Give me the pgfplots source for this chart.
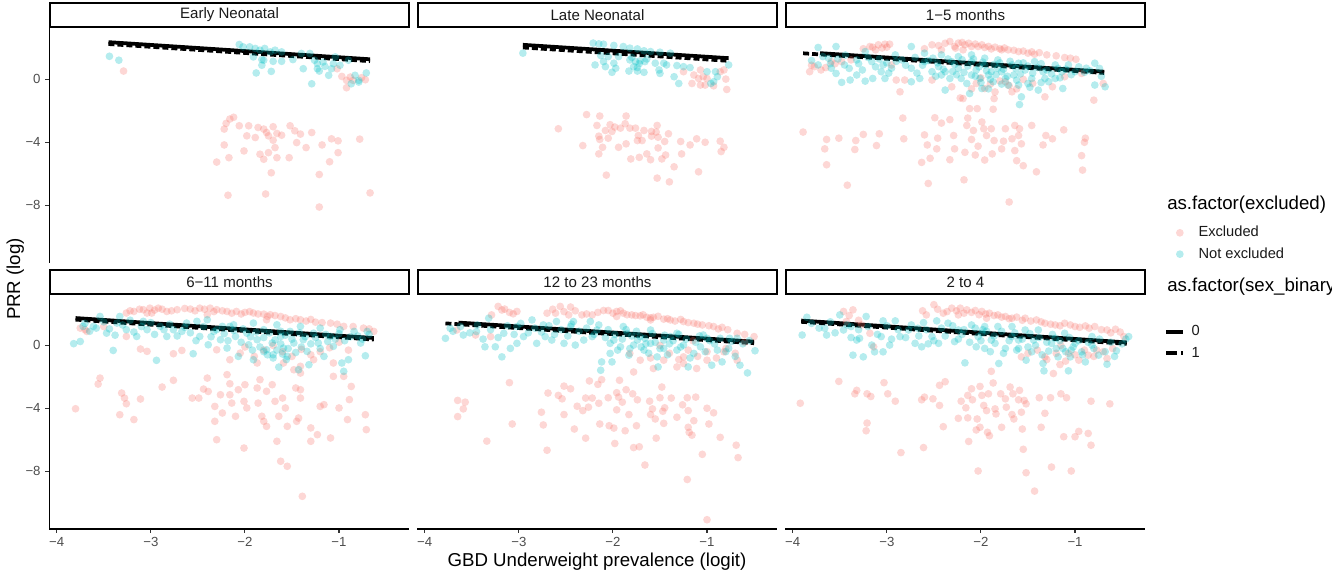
\documentclass[border=0pt]{standalone}
\usepackage{fontspec}
\setmainfont{Liberation Sans}
\usepackage{pgfplots}
\pgfplotsset{compat=1.18}
\definecolor{salm}{HTML}{F8766D}
\definecolor{cyn}{HTML}{00BFC4}
\definecolor{tickgray}{HTML}{4D4D4D}
\definecolor{stripgray}{HTML}{1A1A1A}
\pgfplotsset{
 panel/.style={scale only axis, width=270pt, height=176.25pt,
  xmin=-4.079, xmax=-0.253, ymin=-11.68, ymax=3.27,
  xtick={-4,-3,-2,-1}, xticklabels={−4,−3,−2,−1},
  ytick={-8,-4,0}, yticklabels={−8,−4,0},
  tick align=outside, major tick length=3pt,
  tick style={black!80, line width=0.8pt},
  axis line style={black, line width=1pt, -},
  ticklabel style={font=\fontsize{9.9}{11}\selectfont, text=tickgray},
  clip=false},
 exc/.style={only marks, color=salm, mark=*, mark size=2.9pt, mark options={salm, draw opacity=0, fill opacity=0.29}, forget plot},
 nex/.style={only marks, color=cyn, mark=*, mark size=2.9pt, mark options={cyn, draw opacity=0, fill opacity=0.29}, forget plot},
 reg0/.style={black, line width=2.8pt, forget plot},
 reg1/.style={black, line width=2.8pt, dash pattern=on 4.5pt off 2.25pt, forget plot},
}
\begin{document}
\begin{tikzpicture}[x=0.75pt,y=0.75pt]
\useasboundingbox (0,0) rectangle (1332,571);

% ---------- Panel 1: Early Neonatal ----------
\begin{axis}[panel, at={(36.975pt,231pt)}, anchor=south west, axis y line*=left, hide x axis]
\addplot[exc] coordinates {(-3.29,0.53) (-1.02,0.68) (-0.97,0.19) (-0.92,-0.06) (-0.92,-0.53) (-0.88,0.15) (-0.76,0.11) (-0.72,-0.02) (-0.85,-0.06)
(-2.20,-2.80) (-2.22,-3.16) (-2.16,-2.52) (-2.12,-2.41) (-2.06,-2.95) (-1.96,-2.95) (-1.98,-3.59) (-1.86,-3.06) (-1.80,-3.16) (-1.77,-3.38) (-1.75,-3.59) (-1.70,-3.01) (-1.66,-3.44) (-1.70,-3.87) (-1.61,-3.55) (-1.52,-2.95) (-1.47,-3.27) (-1.41,-3.48) (-1.45,-4.02) (-1.29,-3.38) (-1.35,-4.34) (-1.18,-4.17) (-1.08,-3.78) (-1.01,-3.91) (-0.78,-3.80) (-2.22,-4.17) (-2.01,-4.55) (-2.17,-4.98) (-2.30,-5.26) (-1.84,-4.76) (-1.75,-4.66) (-1.68,-4.34) (-1.66,-4.98) (-1.72,-5.94) (-1.53,-4.98) (-1.80,-5.08) (-1.01,-4.66) (-1.10,-5.24) (-1.21,-6.05) (-2.18,-7.37) (-1.78,-7.29) (-1.21,-8.12) (-0.67,-7.22) (-1.89,-3.70)};
\addplot[nex] coordinates {(-3.44,1.47) (-3.34,1.22) (-2.06,2.22) (-2.02,2.07) (-1.95,2.07) (-1.89,1.97) (-1.84,1.86) (-1.79,1.97) (-1.73,1.75) (-1.68,1.86) (-1.61,1.75) (-1.91,1.43) (-1.82,1.26) (-1.80,1.22) (-1.70,1.15) (-1.61,1.15) (-1.82,0.90) (-1.72,0.51) (-1.88,0.41) (-1.49,1.26) (-1.40,1.65) (-1.31,1.65) (-1.38,0.68) (-1.26,1.22) (-1.23,1.00) (-1.17,1.11) (-1.23,0.68) (-1.21,0.53) (-1.15,0.83) (-1.08,0.68) (-1.06,1.00) (-0.99,0.90) (-1.11,0.26) (-1.29,-0.28) (-0.87,-0.28) (-0.79,-0.17) (-0.71,0.41) (-0.83,0.26) (-0.90,1.22) (-1.04,1.43) (-0.79,-0.06)};
\addplot[reg1] coordinates {(-3.45,2.25) (-0.67,1.16)};
\addplot[reg0] coordinates {(-3.45,2.37) (-0.67,1.28)};
\end{axis}

% ---------- Panel 2: Late Neonatal ----------
\begin{axis}[panel, at={(312.975pt,231pt)}, anchor=south west, hide x axis, hide y axis]
\addplot[exc] coordinates {(-1.25,0.49) (-1.14,0.28) (-1.07,0.60) (-1.04,0.17) (-1.09,0.06) (-1.16,-0.26) (-1.07,-0.36) (-1.00,0.06) (-0.93,-0.41) (-0.86,0.49) (-0.82,0.60) (-0.80,0.02) (-0.79,-0.64) (-1.02,-0.36)
(-2.58,-3.14) (-2.28,-2.24) (-2.14,-2.33) (-2.17,-2.93) (-2.03,-2.88) (-1.98,-3.03) (-1.92,-3.10) (-1.86,-2.33) (-1.87,-2.82) (-1.82,-3.10) (-1.76,-3.10) (-2.08,-3.25) (-2.01,-3.31) (-1.67,-3.25) (-1.59,-3.31) (-1.53,-2.93) (-1.54,-3.35) (-1.59,-3.61) (-1.52,-3.68) (-1.41,-3.46) (-2.15,-3.61) (-2.14,-3.82) (-2.05,-3.74) (-1.73,-3.57) (-1.74,-3.89) (-1.69,-3.89) (-1.45,-3.95) (-1.28,-3.95) (-1.11,-3.78) (-1.02,-4.00) (-1.18,-4.17) (-0.86,-3.93) (-0.82,-4.32) (-0.85,-4.59) (-2.32,-4.21) (-2.11,-4.32) (-1.94,-4.32) (-1.86,-4.10) (-1.52,-4.36) (-2.15,-4.74) (-1.81,-5.06) (-1.72,-4.96) (-1.64,-4.74) (-1.60,-5.11) (-1.48,-5.06) (-1.44,-4.81) (-1.27,-4.74) (-1.35,-5.56) (-2.07,-6.09) (-1.53,-6.28) (-1.40,-6.52) (-1.09,-5.88)};
\addplot[nex] coordinates {(-2.957,1.67) (-2.21,2.31) (-2.15,2.26) (-2.10,2.24) (-1.99,2.16) (-1.89,2.09) (-1.82,1.99) (-1.74,1.94) (-1.67,1.82) (-1.60,1.77) (-1.50,1.73) (-1.39,1.67) (-2.13,1.52) (-2.05,1.45) (-1.94,1.45) (-2.10,1.13) (-1.99,1.03) (-2.19,0.92) (-2.08,0.81) (-1.97,0.71) (-2.01,0.45) (-1.82,1.24) (-1.76,1.13) (-1.71,1.18) (-1.66,1.13) (-1.78,0.81) (-1.74,0.75) (-1.83,0.53) (-1.74,0.53) (-1.67,0.45) (-1.55,1.03) (-1.46,1.03) (-1.43,0.92) (-1.51,0.60) (-1.50,0.38) (-1.32,0.88) (-1.25,0.81) (-1.18,0.75) (-1.35,0.17) (-1.30,-0.26) (-1.00,0.49) (-0.91,0.49) (-0.89,0.17) (-0.77,0.92) (-0.96,-0.26) (-0.93,-0.15) (-1.80,1.40) (-1.72,1.00) (-1.64,1.30)};
\addplot[reg1] coordinates {(-2.957,2.03) (-0.77,1.18)};
\addplot[reg0] coordinates {(-2.957,2.20) (-0.77,1.35)};
\end{axis}

% ---------- Panel 3: 1-5 months ----------
\begin{axis}[panel, at={(588.975pt,231pt)}, anchor=south west, hide x axis, hide y axis,
  legend style={at={(axis description cs:1.073,0.083)}, anchor=west, draw=none, fill=none,
    font=\fontsize{11}{13}\selectfont, text=stripgray, row sep=2pt,
    nodes={text height=8pt, text depth=2pt}},
  legend cell align=left,
  legend image code/.code={\draw[#1] plot coordinates {(0pt,0pt)}; \path[draw=none, fill=none] (-3pt,0pt) -- (12pt,0pt);}]
\addlegendimage{only marks, color=salm, mark=*, mark size=2.9pt, mark options={salm, draw opacity=0, fill opacity=0.29}}
\addlegendentry{Excluded}
\addlegendimage{only marks, color=cyn, mark=*, mark size=2.9pt, mark options={cyn, draw opacity=0, fill opacity=0.29}}
\addlegendentry{Not excluded}
\addplot[exc] coordinates {(-3.82,0.49) (-3.77,0.81) (-3.70,0.60) (-3.59,1.13) (-3.48,1.13) (-3.38,1.24) (-3.18,2.09) (-3.09,2.20) (-3.02,2.24) (-2.97,2.24) (-3.12,1.88) (-2.95,0.92) (-2.90,-0.04) (-2.86,-0.79) (-2.81,-0.04) (-2.52,2.20) (-2.42,1.88) (-2.33,2.41) (-2.24,2.31) (-2.17,2.20) (-2.10,2.09) (-2.03,2.09) (-1.96,2.03) (-1.89,1.94) (-1.78,1.88) (-1.71,1.88) (-1.60,1.77) (-1.50,1.67) (-1.43,1.60) (-1.30,1.56) (-1.11,1.39) (-0.99,1.28) (-2.19,1.88) (-2.27,1.99) (-2.52,-0.04) (-2.31,-0.47) (-2.19,-1.22) (-2.05,-0.26) (-1.96,-0.58) (-1.86,-1.22) (-1.74,-0.15) (-1.67,-0.79) (-1.32,-1.11) (-1.24,-0.47) (-1.11,0.17) (-0.93,0.38) (-0.80,-1.32) (-0.70,-0.26)
(-3.89,-3.35) (-3.64,-3.82) (-3.66,-4.42) (-3.64,-5.43) (-3.51,-3.74) (-3.42,-6.73) (-3.34,-4.46) (-3.33,-3.89) (-3.25,-3.50) (-3.11,-4.21) (-3.08,-3.46) (-2.83,-2.46) (-2.82,-3.78) (-2.63,-5.28) (-2.60,-3.53) (-2.57,-4.17) (-2.56,-6.62) (-2.54,-5.02) (-2.49,-2.44) (-2.47,-4.42) (-2.46,-3.74) (-2.42,-2.78) (-2.33,-2.56) (-2.33,-5.11) (-2.29,-3.57) (-2.28,-4.42) (-2.22,-1.18) (-2.18,-6.39) (-2.17,-4.64) (-2.15,-2.93) (-2.14,-2.46) (-2.12,-1.86) (-2.10,-3.82) (-2.08,-3.25) (-2.06,-4.81) (-2.04,-1.86) (-2.03,-4.25) (-1.99,-2.71) (-1.97,-3.14) (-1.96,-5.13) (-1.94,-3.57) (-1.89,-3.14) (-1.88,-4.74) (-1.87,-1.90) (-1.86,-3.89) (-1.78,-4.42) (-1.76,-3.93) (-1.74,-3.14) (-1.70,-7.80) (-1.67,-3.78) (-1.64,-2.93) (-1.64,-4.53) (-1.62,-5.17) (-1.60,-3.57) (-1.59,-3.14) (-1.57,-4.10) (-1.55,-5.49) (-1.46,-2.93) (-1.41,-5.88) (-1.34,-4.17) (-1.31,-3.57) (-1.24,-3.78) (-1.12,-3.21) (-0.93,-4.85) (-0.92,-5.77) (-0.90,-4.00) (-0.89,-3.74)};
\addplot[exc] coordinates {(-3.80,0.90) (-3.65,0.75) (-3.55,1.00) (-3.25,1.95) (-3.15,2.05) (-3.05,2.00) (-3.00,2.05) (-2.60,1.95) (-2.45,2.15) (-2.38,2.30) (-2.28,2.10) (-2.20,2.35) (-2.13,2.30) (-2.06,2.25) (-1.99,2.20) (-1.92,2.10) (-1.85,2.05) (-1.80,1.95) (-1.75,2.00) (-1.65,1.85) (-1.55,1.80) (-1.46,1.75) (-1.38,1.70) (-1.20,1.50) (-1.05,1.35) (-2.00,0.10) (-1.90,-0.30) (-1.80,-0.10) (-1.70,-0.40) (-1.62,-0.60) (-1.55,0.00) (-1.85,-0.80) (-2.10,-0.60) (-1.45,-0.25)};
\addplot[nex] coordinates {(-3.73,2.03) (-3.54,2.09) (-3.62,1.35) (-3.54,0.38) (-3.48,-0.19) (-3.39,-0.04) (-3.32,0.28) (-3.23,-0.11) (-3.23,1.77) (-3.15,0.06) (-3.06,0.49) (-3.02,0.06) (-2.95,0.71) (-2.91,1.56) (-3.32,1.24) (-3.45,0.92) (-2.74,2.09) (-2.74,0.71) (-2.74,-0.15) (-2.65,0.06) (-2.60,1.13) (-2.52,0.49) (-2.51,1.35) (-2.45,0.81) (-2.42,0.28) (-2.38,-0.68) (-2.33,0.06) (-2.31,1.13) (-2.24,0.71) (-2.21,0.06) (-2.15,-0.26) (-2.12,-0.90) (-2.10,1.13) (-2.05,0.60) (-2.01,0.06) (-1.99,-0.58) (-1.96,0.92) (-1.92,0.28) (-1.87,-0.15) (-1.82,1.24) (-1.78,0.49) (-1.74,0.06) (-1.67,0.92) (-1.65,0.28) (-1.60,-0.36) (-1.57,-1.11) (-1.59,-1.60) (-1.53,0.60) (-1.46,0.06) (-1.43,1.13) (-1.39,-0.68) (-1.34,0.49) (-1.28,-0.15) (-1.21,0.92) (-1.14,0.49) (-1.13,-0.58) (-1.07,0.92) (-1.00,0.49) (-0.88,0.71) (-0.79,1.03) (-0.79,-0.36) (-0.68,-0.47) (-2.60,1.67) (-2.42,1.56) (-2.24,1.45) (-2.10,1.56) (-1.96,1.35) (-1.82,0.71) (-1.60,1.03) (-3.73,0.92) (-3.59,0.71) (-3.16,1.13) (-3.04,0.92) (-2.84,1.24) (-2.38,0.49) (-2.10,0.28) (-1.89,0.49) (-1.71,-0.36) (-1.50,-0.26) (-1.32,0.06) (-1.21,0.06)};
\addplot[nex] coordinates {(-3.80,1.20) (-3.68,1.45) (-3.60,1.00) (-3.52,1.30) (-3.44,1.55) (-3.40,0.70) (-3.30,1.00) (-3.26,0.60) (-3.20,1.40) (-3.12,0.80) (-3.08,1.30) (-3.00,1.05) (-2.98,0.40) (-2.90,1.15) (-2.80,0.90) (-2.70,1.40) (-2.68,0.40) (-2.62,0.90) (-2.56,1.20) (-2.48,0.20) (-2.46,1.05) (-2.40,0.65) (-2.35,1.30) (-2.28,0.95) (-2.26,0.30) (-2.20,1.25) (-2.18,0.45) (-2.14,0.85) (-2.08,1.30) (-2.06,0.20) (-2.02,0.80) (-1.98,1.10) (-1.94,0.55) (-1.90,0.00) (-1.86,0.95) (-1.84,0.30) (-1.80,1.05) (-1.76,0.65) (-1.72,0.20) (-1.69,1.15) (-1.63,0.70) (-1.58,0.35) (-1.55,1.05) (-1.50,0.85) (-1.45,0.40) (-1.40,0.75) (-1.36,1.00) (-1.30,0.60) (-1.25,0.35) (-1.18,0.70) (-1.10,0.65) (-1.04,0.30) (-0.96,0.80) (-0.90,0.45) (-0.84,0.55) (-0.74,0.70) (-0.72,0.20) (-1.62,-0.05) (-1.78,-0.30) (-2.00,-0.20) (-1.92,-0.60) (-1.48,-0.50) (-1.36,-0.20) (-1.16,0.10) (-2.30,0.50)};
\addplot[reg1] coordinates {(-3.89,1.66) (-0.69,0.41)};
\addplot[reg0] coordinates {(-3.71,1.67) (-0.69,0.49)};
\end{axis}

% ---------- Panel 4: 6-11 months ----------
\begin{axis}[panel, at={(36.975pt,31.5pt)}, anchor=south west, axis x line*=bottom, axis y line*=left]
\addplot[exc] coordinates {(-3.75,1.10) (-3.68,0.89) (-3.26,2.06) (-3.18,2.16) (-3.08,2.27) (-3.01,2.37) (-2.92,2.37) (-2.99,2.06) (-2.83,2.16) (-2.72,2.27) (-2.58,2.31) (-2.48,2.37) (-2.37,2.37) (-2.30,2.27) (-2.19,2.16) (-2.09,2.16) (-2.00,2.10) (-1.91,2.06) (-1.80,1.99) (-1.73,1.95) (-1.62,1.84) (-1.52,1.63) (-1.41,1.63) (-1.25,1.48) (-1.09,1.42) (-0.95,1.21) (-0.74,1.10) (-0.63,0.89) (-2.40,1.95) (-3.04,2.06) (-1.77,1.63)
(-3.26,0.57) (-3.11,-0.23) (-3.04,-0.38) (-2.76,-0.53) (-2.67,-0.32) (-2.30,-0.28) (-2.16,-0.91) (-2.05,-0.49) (-1.87,-1.12) (-1.59,-1.12) (-1.48,-1.55) (-1.41,-1.76) (-1.27,-0.91) (-1.06,-1.12) (-0.95,-1.97) (-1.41,-1.33)
(-3.80,-4.03) (-3.56,-2.46) (-3.54,-2.08) (-3.31,-3.03) (-3.28,-3.35) (-3.26,-3.71) (-3.11,-3.41) (-3.33,-4.41) (-3.18,-4.72) (-2.88,-2.65) (-2.76,-2.22) (-2.56,-3.35) (-2.49,-3.35) (-2.44,-2.78) (-2.40,-2.08) (-2.39,-2.93) (-2.30,-6.00) (-2.32,-3.88) (-2.32,-4.83) (-2.26,-3.14) (-2.24,-4.30) (-2.19,-1.86) (-2.16,-2.44) (-2.16,-3.14) (-2.14,-3.67) (-2.10,-4.51) (-2.07,-2.82) (-2.01,-3.56) (-2.01,-6.53) (-2.00,-2.50) (-1.98,-3.98) (-1.87,-2.71) (-1.86,-3.67) (-1.84,-2.18) (-1.82,-4.51) (-1.80,-4.83) (-1.77,-5.15) (-1.77,-2.92) (-1.71,-2.50) (-1.68,-3.56) (-1.66,-6.10) (-1.64,-4.51) (-1.62,-7.37) (-1.60,-3.35) (-1.57,-3.98) (-1.55,-5.15) (-1.55,-7.69) (-1.46,-2.71) (-1.45,-4.83) (-1.43,-4.62) (-1.41,-2.82) (-1.41,-3.35) (-1.39,-9.60) (-1.30,-5.25) (-1.30,-6.10) (-1.23,-5.68) (-1.20,-3.88) (-1.16,-3.77) (-1.09,-5.89) (-1.00,-3.98) (-0.91,-4.72) (-0.89,-3.45) (-0.87,-2.61) (-0.72,-4.41) (-0.71,-5.36) (-1.06,-1.97)};
\addplot[exc] coordinates {(-3.22,2.20) (-3.12,2.30) (-2.96,2.25) (-2.88,2.30) (-2.78,2.20) (-2.64,2.35) (-2.53,2.20) (-2.43,2.30) (-2.33,2.15) (-2.24,2.20) (-2.14,2.05) (-2.04,2.00) (-1.95,2.15) (-1.86,2.00) (-1.76,1.85) (-1.68,1.90) (-1.57,1.75) (-1.46,1.70) (-1.35,1.55) (-1.30,1.65) (-1.18,1.45) (-1.02,1.35) (-0.85,1.20) (-0.68,1.05) (-1.80,-0.30) (-1.70,0.00) (-1.60,-0.40) (-1.50,-0.70) (-1.40,-0.25) (-1.30,-0.60) (-1.20,-0.40) (-1.10,-0.15) (-1.00,0.20) (-0.90,-0.30) (-1.90,-0.70) (-2.00,-0.10) (-3.70,1.00) (-3.50,1.20)};
\addplot[nex] coordinates {(-3.82,0.11) (-3.75,0.25) (-3.72,1.21) (-3.61,1.21) (-3.54,1.84) (-3.47,0.78) (-3.40,-0.32) (-3.33,1.84) (-3.26,1.00) (-3.15,0.57) (-3.04,1.00) (-2.94,-0.95) (-2.90,1.21) (-2.83,0.57) (-2.76,1.00) (-2.67,0.89) (-2.55,-0.53) (-2.51,1.53) (-2.48,0.57) (-2.39,0.04) (-2.33,0.89) (-2.26,0.36) (-2.19,-0.17) (-2.16,1.21) (-2.10,0.57) (-2.07,-0.70) (-1.98,0.78) (-1.96,0.04) (-1.91,-0.91) (-1.87,0.36) (-1.80,1.00) (-1.77,-0.28) (-1.71,0.15) (-1.70,-0.59) (-1.64,-1.38) (-1.62,0.57) (-1.59,-0.17) (-1.55,-0.70) (-1.52,0.89) (-1.48,0.15) (-1.43,-1.55) (-1.38,0.36) (-1.34,-0.38) (-1.32,-1.23) (-1.27,0.78) (-1.22,0.15) (-1.16,-0.70) (-1.09,0.57) (-1.06,-0.06) (-0.97,-1.12) (-0.95,-1.65) (-0.90,-0.91) (-0.84,0.89) (-0.77,0.15) (-0.72,-0.66) (-0.70,0.89) (-3.36,1.42) (-3.08,1.53) (-2.62,1.42) (-2.40,1.63) (-2.12,1.31) (-1.91,1.42) (-1.66,1.31) (-1.41,1.21) (-1.20,1.10) (-0.99,1.00) (-2.24,1.21)};
\addplot[nex] coordinates {(-3.70,1.40) (-3.65,0.90) (-3.58,1.10) (-3.50,1.50) (-3.44,1.05) (-3.38,0.65) (-3.30,1.30) (-3.22,1.60) (-3.18,0.85) (-3.10,1.20) (-3.00,1.45) (-2.96,0.70) (-2.86,1.00) (-2.80,1.35) (-2.72,0.60) (-2.64,1.15) (-2.58,0.80) (-2.52,0.30) (-2.44,1.20) (-2.36,0.55) (-2.30,1.00) (-2.22,0.75) (-2.18,0.30) (-2.12,0.95) (-2.04,0.20) (-2.02,1.05) (-1.94,0.55) (-1.92,-0.30) (-1.88,0.85) (-1.84,-0.10) (-1.80,0.50) (-1.76,-0.60) (-1.74,0.80) (-1.68,0.35) (-1.66,-0.30) (-1.62,0.10) (-1.60,-0.55) (-1.57,0.65) (-1.54,-0.20) (-1.50,0.40) (-1.46,-0.45) (-1.42,0.80) (-1.40,-0.10) (-1.36,0.55) (-1.30,0.10) (-1.25,0.50) (-1.20,-0.20) (-1.14,0.70) (-1.12,0.25) (-1.04,0.40) (-1.00,0.75) (-0.94,0.30) (-0.88,0.55) (-0.80,0.60) (-0.75,0.40) (-0.68,0.70) (-1.70,-0.80) (-1.56,-0.90) (-1.80,-0.40) (-1.62,0.90)};
\addplot[reg1] coordinates {(-3.80,1.64) (-0.63,0.37)};
\addplot[reg0] coordinates {(-3.80,1.74) (-0.63,0.47)};
\end{axis}

% ---------- Panel 5: 12 to 23 months ----------
\begin{axis}[panel, at={(312.975pt,31.5pt)}, anchor=south west, axis x line*=bottom, hide y axis]
\addplot[exc] coordinates {(-3.66,0.98) (-3.46,0.66) (-3.29,1.94) (-3.22,2.48) (-3.15,2.31) (-3.06,2.01) (-3.02,2.16) (-2.70,2.05) (-2.61,2.05) (-2.56,2.48) (-2.45,2.44) (-2.47,1.94) (-2.33,1.94) (-2.22,1.94) (-2.10,2.22) (-2.05,2.22) (-1.96,2.16) (-1.89,2.05) (-1.80,1.94) (-1.71,1.88) (-1.64,1.79) (-1.57,1.79) (-1.46,1.67) (-1.39,1.62) (-1.25,1.52) (-1.14,1.41) (-1.05,1.30) (-0.93,1.20) (-0.84,1.15) (-0.68,0.77) (-0.50,0.56) (-1.96,1.84) (-1.60,1.62) (-3.30,0.56)
(-1.82,-0.51) (-1.71,-0.94) (-1.78,-1.69) (-1.57,-1.47) (-1.46,-0.94) (-1.32,-1.37) (-1.25,-0.73) (-1.25,-1.15) (-1.11,-1.47) (-1.00,-0.94) (-0.82,-0.41) (-0.68,-0.94)
(-3.65,-3.50) (-3.57,-3.61) (-3.59,-4.04) (-3.65,-4.53) (-3.34,-6.09) (-3.10,-2.37) (-3.07,-5.00) (-2.76,-4.25) (-2.74,-5.06) (-2.70,-6.67) (-2.69,-3.03) (-2.58,-3.18) (-2.54,-3.40) (-2.52,-2.59) (-2.52,-4.40) (-2.45,-2.76) (-2.41,-5.32) (-2.38,-3.87) (-2.32,-4.15) (-2.29,-5.90) (-2.29,-3.35) (-2.26,-3.93) (-2.25,-2.26) (-2.22,-3.35) (-2.16,-2.48) (-2.15,-3.68) (-2.14,-5.00) (-2.12,-2.18) (-2.05,-3.33) (-2.04,-5.11) (-1.99,-5.26) (-1.98,-6.24) (-1.96,-3.01) (-1.96,-4.10) (-1.94,-3.29) (-1.93,-2.22) (-1.90,-3.61) (-1.87,-5.43) (-1.86,-2.82) (-1.83,-4.40) (-1.79,-3.08) (-1.78,-6.50) (-1.75,-5.11) (-1.74,-3.46) (-1.72,-6.45) (-1.66,-7.61) (-1.61,-3.55) (-1.60,-4.40) (-1.58,-4.04) (-1.55,-4.68) (-1.54,-5.90) (-1.50,-3.33) (-1.48,-2.65) (-1.47,-4.19) (-1.46,-4.96) (-1.45,-3.97) (-1.38,-3.35) (-1.32,-4.57) (-1.26,-3.78) (-1.21,-8.53) (-1.21,-3.33) (-1.20,-4.15) (-1.20,-5.21) (-1.19,-5.53) (-1.16,-5.71) (-1.14,-4.79) (-1.12,-3.29) (-1.05,-6.93) (-1.00,-4.00) (-0.98,-5.00) (-1.00,-11.09) (-0.93,-4.29) (-0.86,-5.85) (-0.69,-6.35) (-0.67,-7.14)};
\addplot[exc] coordinates {(-3.18,2.25) (-3.10,2.10) (-2.64,2.30) (-2.52,2.15) (-2.40,2.20) (-2.28,2.00) (-2.16,2.10) (-2.00,2.05) (-1.92,2.20) (-1.85,1.95) (-1.76,1.90) (-1.68,1.95) (-1.60,1.75) (-1.52,1.85) (-1.42,1.70) (-1.34,1.55) (-1.28,1.65) (-1.20,1.45) (-1.10,1.35) (-0.98,1.25) (-0.88,1.05) (-0.78,1.00) (-0.60,0.70) (-1.50,0.00) (-1.40,-0.50) (-1.30,-0.90) (-1.20,-0.30) (-1.10,-0.70) (-1.00,-0.40) (-0.90,-0.80) (-0.80,-0.20) (-0.70,-0.50) (-0.60,0.20) (-1.60,-0.80) (-1.15,0.30)};
\addplot[nex] coordinates {(-3.78,0.45) (-3.73,1.09) (-3.59,0.66) (-3.45,0.88) (-3.36,-0.09) (-3.32,1.73) (-3.25,-0.09) (-3.18,-0.73) (-3.16,0.77) (-3.09,-0.19) (-3.02,0.13) (-2.95,0.56) (-2.86,1.62) (-2.81,0.13) (-2.72,0.56) (-2.65,0.34) (-2.60,1.52) (-2.52,0.13) (-2.42,1.52) (-2.40,0.02) (-2.31,0.34) (-2.24,1.52) (-2.22,0.56) (-2.12,-1.05) (-2.13,-1.58) (-2.03,-0.51) (-2.01,-1.05) (-1.99,0.34) (-1.92,-0.09) (-1.85,0.77) (-1.83,-0.62) (-1.78,0.02) (-1.71,0.56) (-1.67,-0.30) (-1.60,0.13) (-1.53,-0.73) (-1.52,-1.37) (-1.46,-0.19) (-1.39,0.56) (-1.32,-0.30) (-1.25,0.02) (-1.20,-1.37) (-1.14,-0.51) (-1.07,-0.09) (-1.00,0.45) (-0.95,-1.26) (-0.89,-0.30) (-0.84,-1.05) (-0.77,-0.19) (-0.68,0.45) (-0.65,-1.26) (-0.57,-1.75) (-0.49,-0.34) (-3.02,1.20) (-2.74,1.30) (-2.45,1.20) (-2.17,0.98) (-1.89,1.20) (-1.60,0.98) (-1.32,0.77) (-1.04,0.66) (-0.76,0.45) (-1.74,0.34) (-1.46,0.34) (-2.03,0.13)};
\addplot[nex] coordinates {(-3.70,0.90) (-3.62,1.20) (-3.52,0.80) (-3.44,1.30) (-3.38,0.40) (-3.30,1.00) (-3.22,0.50) (-3.12,1.25) (-3.05,0.70) (-2.98,1.40) (-2.90,0.80) (-2.83,1.10) (-2.76,0.85) (-2.68,1.25) (-2.62,0.70) (-2.55,1.00) (-2.48,0.60) (-2.44,1.35) (-2.36,0.90) (-2.28,1.10) (-2.20,0.70) (-2.15,1.30) (-2.08,0.50) (-2.05,1.00) (-1.98,0.70) (-1.95,-0.30) (-1.90,0.40) (-1.86,1.00) (-1.82,-0.20) (-1.80,0.60) (-1.75,0.90) (-1.70,-0.10) (-1.66,0.45) (-1.62,-0.50) (-1.58,0.75) (-1.55,0.20) (-1.50,-0.20) (-1.45,0.65) (-1.42,-0.60) (-1.36,0.30) (-1.30,0.70) (-1.28,-0.10) (-1.22,0.40) (-1.18,-0.80) (-1.12,0.20) (-1.08,0.60) (-1.02,-0.40) (-0.97,0.30) (-0.92,0.10) (-0.86,0.45) (-0.80,-0.40) (-0.74,0.25) (-0.70,-0.70) (-0.62,0.10) (-0.55,0.30) (-1.65,0.10) (-1.40,0.10)};
\addplot[reg1] coordinates {(-3.78,1.40) (-0.50,0.14)};
\addplot[reg0] coordinates {(-3.64,1.45) (-0.50,0.24)};
\end{axis}

% ---------- Panel 6: 2 to 4 ----------
\begin{axis}[panel, at={(588.975pt,31.5pt)}, anchor=south west, axis x line*=bottom, hide y axis,
  legend style={at={(axis description cs:1.041,0.794)}, anchor=west, draw=none, fill=none,
    font=\fontsize{11}{13}\selectfont, text=stripgray, row sep=2pt,
    nodes={text height=8pt, text depth=2pt}},
  legend cell align=left,
  legend image code/.code={\draw[#1] (0pt,0pt) -- (12.75pt,0pt); \path[draw=none, fill=none] (0pt,0pt) -- (17pt,0pt);}]
\addlegendimage{black, line width=2.8pt}
\addlegendentry{0}
\addlegendimage{black, line width=2.8pt, dash pattern=on 8pt off 3pt}
\addlegendentry{1}
\addplot[exc] coordinates {(-3.46,2.16) (-3.36,2.26) (-3.43,1.52) (-3.27,1.30) (-3.18,0.77) (-3.14,-0.09) (-2.58,1.94) (-2.50,2.59) (-2.40,2.05) (-2.31,2.37) (-2.22,2.37) (-2.15,2.26) (-2.06,2.22) (-1.99,2.16) (-1.91,2.05) (-1.82,1.94) (-1.74,1.84) (-1.67,1.73) (-1.53,1.73) (-1.41,1.62) (-1.32,1.41) (-1.21,1.30) (-1.11,1.41) (-1.00,1.20) (-0.89,1.24) (-0.79,1.20) (-0.66,0.98) (-0.57,1.03) (-0.48,0.56) (-2.24,1.94) (-1.94,1.73)
(-1.57,-0.73) (-1.32,-0.73) (-1.23,-1.79) (-1.16,-1.22) (-1.07,-0.51) (-0.96,-0.94) (-0.86,-0.62) (-0.66,-0.83) (-0.77,-0.30) (-1.89,-1.65)
(-3.92,-3.68) (-3.51,-2.29) (-3.34,-3.08) (-3.32,-2.86) (-3.21,-3.08) (-3.17,-3.25) (-3.21,-4.94) (-3.22,-5.43) (-3.03,-2.37) (-2.99,-3.08) (-2.91,-3.55) (-2.85,-6.82) (-2.63,-3.46) (-2.61,-6.50) (-2.60,-3.29) (-2.51,-3.40) (-2.44,-3.82) (-2.44,-2.54) (-2.40,-5.17) (-2.38,-2.31) (-2.24,-4.64) (-2.21,-3.55) (-2.16,-3.97) (-2.14,-3.18) (-2.14,-4.61) (-2.13,-6.11) (-2.10,-2.76) (-2.09,-3.46) (-2.05,-5.38) (-2.04,-4.68) (-2.03,-7.99) (-2.01,-2.61) (-2.01,-5.21) (-1.99,-3.18) (-1.97,-3.82) (-1.94,-4.15) (-1.93,-5.53) (-1.92,-3.08) (-1.91,-5.75) (-1.87,-2.39) (-1.85,-4.04) (-1.84,-4.36) (-1.79,-3.08) (-1.78,-5.21) (-1.74,-3.40) (-1.73,-3.93) (-1.69,-2.65) (-1.67,-4.40) (-1.66,-3.08) (-1.65,-4.68) (-1.60,-3.46) (-1.59,-2.86) (-1.57,-4.25) (-1.56,-5.32) (-1.55,-6.61) (-1.54,-3.50) (-1.52,-8.10) (-1.52,-3.72) (-1.43,-9.27) (-1.38,-3.33) (-1.36,-5.21) (-1.32,-4.32) (-1.26,-3.33) (-1.25,-7.74) (-1.15,-3.08) (-1.12,-5.81) (-1.09,-3.33) (-1.04,-7.99) (-1.00,-5.81) (-0.96,-5.47) (-0.86,-5.60) (-0.83,-3.55) (-0.83,-6.35) (-0.63,-3.72)};
\addplot[exc] coordinates {(-3.40,1.90) (-3.30,1.60) (-2.62,2.20) (-2.46,2.30) (-2.36,2.15) (-2.26,2.20) (-2.18,2.05) (-2.10,2.10) (-2.02,1.95) (-1.95,2.00) (-1.86,1.90) (-1.78,1.80) (-1.70,1.70) (-1.62,1.80) (-1.56,1.60) (-1.47,1.55) (-1.36,1.50) (-1.26,1.35) (-1.16,1.25) (-1.05,1.30) (-0.95,1.15) (-0.85,1.10) (-0.72,1.00) (-0.62,0.80) (-0.52,0.85) (-1.40,-0.30) (-1.30,-0.90) (-1.20,-0.50) (-1.10,-1.00) (-1.00,-0.60) (-0.90,-0.30) (-0.80,-0.70) (-0.70,-0.40) (-0.60,-0.20) (-1.50,-0.50) (-1.15,0.00)};
\addplot[nex] coordinates {(-3.90,0.66) (-3.85,1.79) (-3.66,1.09) (-3.64,0.66) (-3.50,1.94) (-3.46,0.98) (-3.36,-0.62) (-3.32,0.34) (-3.29,0.45) (-3.25,-0.73) (-3.22,1.84) (-3.16,0.02) (-3.13,-0.41) (-3.06,0.56) (-3.04,1.56) (-3.04,-0.41) (-2.97,0.02) (-2.91,1.56) (-2.86,0.56) (-2.77,0.98) (-2.70,0.13) (-2.63,-0.09) (-2.61,1.45) (-2.52,0.56) (-2.47,1.56) (-2.45,0.13) (-2.35,1.41) (-2.28,0.24) (-2.24,0.98) (-2.17,-1.11) (-2.10,1.30) (-2.05,-0.09) (-1.99,0.77) (-1.96,-0.19) (-1.89,0.34) (-1.82,1.20) (-1.81,-1.15) (-1.74,-0.19) (-1.67,0.56) (-1.60,-0.19) (-1.53,0.98) (-1.52,-0.94) (-1.46,-0.41) (-1.44,0.34) (-1.34,-1.15) (-1.33,-1.62) (-1.28,-0.36) (-1.21,0.45) (-1.18,-0.73) (-1.13,-0.19) (-1.07,-1.62) (-1.05,-0.73) (-1.00,0.13) (-0.93,-0.41) (-0.89,-1.05) (-0.82,0.02) (-0.75,-0.62) (-0.66,-1.20) (-0.56,-0.34) (-0.43,0.56) (-1.96,1.20) (-1.67,1.20) (-1.39,0.98) (-1.11,0.77) (-0.82,0.56) (-3.38,1.20) (-2.67,1.09) (-2.03,0.56) (-1.85,0.13) (-1.60,0.34) (-1.25,0.13) (-1.04,-0.30)};
\addplot[nex] coordinates {(-3.80,1.40) (-3.72,1.10) (-3.60,1.50) (-3.55,0.80) (-3.42,1.30) (-3.38,0.50) (-3.30,1.00) (-3.20,1.20) (-3.10,0.70) (-3.00,1.25) (-2.95,0.40) (-2.88,1.00) (-2.80,0.50) (-2.74,1.30) (-2.66,0.60) (-2.58,1.00) (-2.50,0.30) (-2.42,1.10) (-2.38,0.60) (-2.30,1.25) (-2.24,0.40) (-2.18,1.00) (-2.12,0.20) (-2.06,1.10) (-2.00,0.30) (-1.94,0.90) (-1.90,-0.40) (-1.86,0.60) (-1.78,0.90) (-1.76,-0.50) (-1.70,0.30) (-1.64,0.80) (-1.62,-0.30) (-1.56,0.40) (-1.50,-0.10) (-1.48,0.75) (-1.42,0.00) (-1.38,0.50) (-1.35,-0.60) (-1.30,0.20) (-1.24,0.70) (-1.20,-0.20) (-1.16,0.30) (-1.10,-0.40) (-1.06,0.50) (-1.02,-0.10) (-0.96,0.30) (-0.92,-0.60) (-0.86,0.20) (-0.80,-0.20) (-0.74,0.40) (-0.68,-0.40) (-0.62,0.20) (-0.58,-0.70) (-0.50,0.10) (-0.46,0.40) (-2.56,0.10) (-2.20,0.70) (-1.98,1.00)};
\addplot[reg1] coordinates {(-3.91,1.50) (-0.45,0.10)};
\addplot[reg0] coordinates {(-3.91,1.58) (-0.45,0.19)};
\end{axis}

% ---------- Strips ----------
\tikzset{strip/.style={draw=black, line width=1.1pt, fill=white}, striptxt/.style={font=\fontsize{11.3}{13}\selectfont, text=stripgray}}
\draw[strip] (50,544) rectangle (409,568); \node[striptxt] at (229.5,556) {Early Neonatal};
\draw[strip] (418,544) rectangle (777,568); \node[striptxt] at (597.5,556) {Late Neonatal};
\draw[strip] (786,544) rectangle (1145,568); \node[striptxt] at (965.5,556) {1−5 months};
\draw[strip] (50,277) rectangle (409,301); \node[striptxt] at (229.5,289) {6−11 months};
\draw[strip] (418,277) rectangle (777,301); \node[striptxt] at (597.5,289) {12 to 23 months};
\draw[strip] (786,277) rectangle (1145,301); \node[striptxt] at (965.5,289) {2 to 4};

% ---------- Axis titles ----------
\node[anchor=base, font=\fontsize{14}{16}\selectfont] at (597,4.5) {GBD Underweight prevalence (logit)};
\node[anchor=base, rotate=90, font=\fontsize{14}{16}\selectfont] at (20,292) {PRR (log)};

% ---------- Legend titles ----------
\node[anchor=base west, inner sep=0pt, font=\fontsize{14}{16}\selectfont] at (1167,361) {as.factor(excluded)};
\begin{scope}
\clip (1150,260) rectangle (1332,300);
\node[anchor=base west, inner sep=0pt, font=\fontsize{14}{16}\selectfont] at (1167,279) {as.factor(sex\_binary)};
\end{scope}
\end{tikzpicture}
\end{document}
